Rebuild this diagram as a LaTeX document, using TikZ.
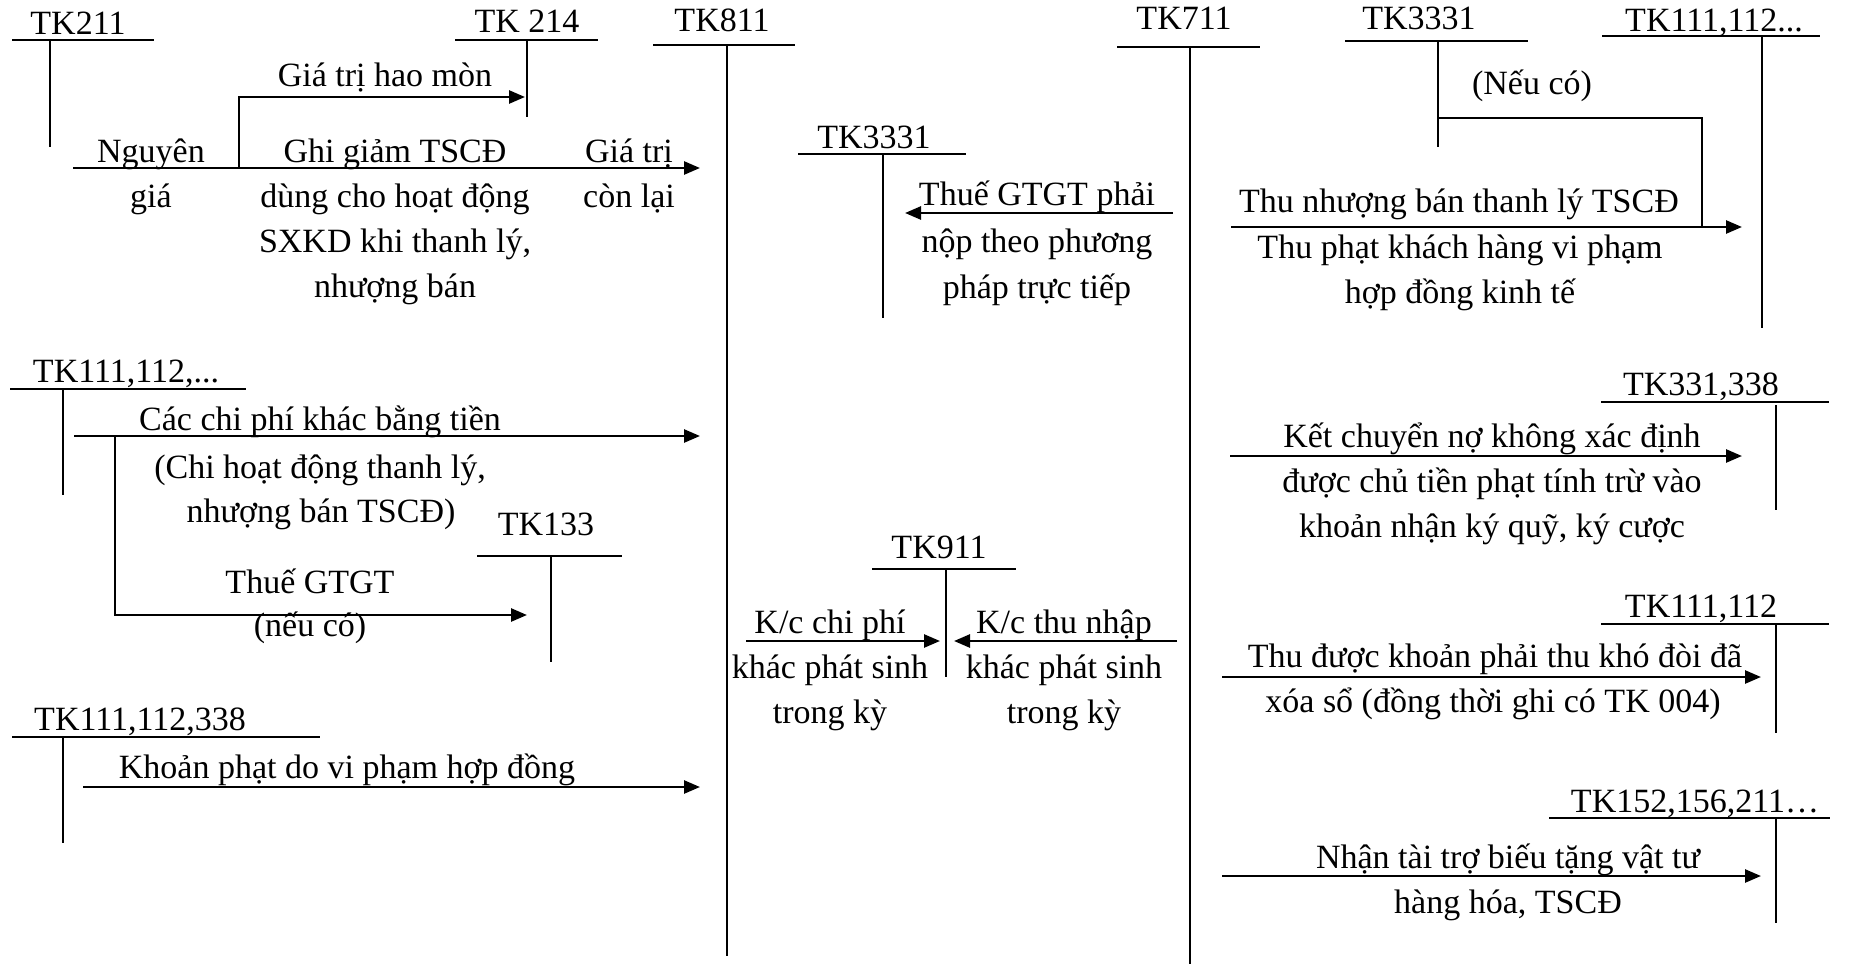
\documentclass[tikz,border=0pt]{standalone}
\usepackage{fontspec}
\setmainfont{Liberation Serif}
\usetikzlibrary{arrows.meta}
\tikzset{
  acc/.style={line width=1.6pt},
  link/.style={line width=2.6pt},
  arr/.style={line width=2.6pt,-{Triangle[length=16pt,width=13pt]}},
  lbl/.style={anchor=base,inner sep=0pt,font=\fontsize{34}{45}\selectfont},
}
\begin{document}
\begin{tikzpicture}[x=1pt,y=-1pt]
\useasboundingbox (0,0) rectangle (1856,966);

% ---------- T accounts ----------
\node[lbl] (tk211) at (78,35) {TK211};
\draw[acc] (12,40) -- (154,40) (50,40) -- (50,147);
\node[lbl] (tk214) at (527,33) {TK 214};
\draw[acc] (455,40) -- (598,40) (527,40) -- (527,117);
\node[lbl] (tk811) at (722,32) {TK811};
\draw[acc] (653,45) -- (795,45) (727,45) -- (727,956);
\node[lbl] (tk711) at (1184,30) {TK711};
\draw[acc] (1117,47) -- (1260,47) (1190,47) -- (1190,964);
\node[lbl] (tk3331a) at (1419,30) {TK3331};
\draw[acc] (1345,41) -- (1528,41) (1438,41) -- (1438,147);
\node[lbl] (tk111a) at (1714,32) {TK111,112...};
\draw[acc] (1602,36) -- (1820,36) (1762,36) -- (1762,328);
\node[lbl] (tk3331b) at (874,148) {TK3331};
\draw[acc] (798,154) -- (966,154) (883,154) -- (883,318);
\node[lbl] (tk111b) at (126,382) {TK111,112,...};
\draw[acc] (10,389) -- (246,389) (63,389) -- (63,495);
\node[lbl] (tk133) at (546,535) {TK133};
\draw[acc] (477,556) -- (622,556) (551,556) -- (551,662);
\node[lbl] (tk111c) at (140,730) {TK111,112,338};
\draw[acc] (12,737) -- (320,737) (63,737) -- (63,843);
\node[lbl] (tk911) at (939,558) {TK911};
\draw[acc] (872,569) -- (1016,569) (946,569) -- (946,677);
\node[lbl] (tk331) at (1701,395) {TK331,338};
\draw[acc] (1601,402) -- (1829,402) (1776,405) -- (1776,510);
\node[lbl] (tk111d) at (1701,617) {TK111,112};
\draw[acc] (1601,624) -- (1829,624) (1776,624) -- (1776,733);
\node[lbl] (tk152) at (1695,812) {TK152,156,211…};
\draw[acc] (1549,818) -- (1830,818) (1776,818) -- (1776,923);

% ---------- connector end points ----------
\coordinate (a1s) at (73,168);   \coordinate (a1e) at (700,168);
\coordinate (b1s) at (239,168);  \coordinate (b1m) at (239,97);  \coordinate (b1e) at (525,97);
\coordinate (a2s) at (1173,213); \coordinate (a2e) at (905,213);
\coordinate (a3s) at (1231,227); \coordinate (a3e) at (1742,227);
\coordinate (b3s) at (1438,118); \coordinate (b3m) at (1702,118); \coordinate (b3e) at (1702,227);
\coordinate (a4s) at (74,436);   \coordinate (a4e) at (700,436);
\coordinate (b4s) at (115,436);  \coordinate (b4m) at (115,615); \coordinate (b4e) at (527,615);
\coordinate (a5s) at (83,787);   \coordinate (a5e) at (700,787);
\coordinate (a6s) at (746,641);  \coordinate (a6e) at (940,641);
\coordinate (a7s) at (1177,641); \coordinate (a7e) at (954,641);
\coordinate (a8s) at (1230,456); \coordinate (a8e) at (1742,456);
\coordinate (a9s) at (1222,677); \coordinate (a9e) at (1761,677);
\coordinate (a10s) at (1222,876); \coordinate (a10e) at (1761,876);

% ---------- connectors ----------
\draw[arr] (a1s) -- (a1e);
\draw[arr] (b1s) -- (b1m) -- (b1e);
\draw[arr] (a2s) -- (a2e);
\draw[arr] (a3s) -- (a3e);
\draw[link] (b3s) -- (b3m) -- (b3e);
\draw[arr] (a4s) -- (a4e);
\draw[arr] (b4s) -- (b4m) -- (b4e);
\draw[arr] (a5s) -- (a5e);
\draw[arr] (a6s) -- (a6e);
\draw[arr] (a7s) -- (a7e);
\draw[arr] (a8s) -- (a8e);
\draw[arr] (a9s) -- (a9e);
\draw[arr] (a10s) -- (a10e);

% ---------- texts ----------
\node[lbl] (t1) at (385,87) {Giá trị hao mòn};
\node[lbl] (t2a) at (151,162) {Nguyên};
\node[lbl] (t2b) at (151,207) {giá};
\node[lbl] (t3a) at (395,162) {Ghi giảm TSCĐ};
\node[lbl] (t3b) at (395,207) {dùng cho hoạt động};
\node[lbl] (t3c) at (395,252) {SXKD khi thanh lý,};
\node[lbl] (t3d) at (395,297) {nhượng bán};
\node[lbl] (t4a) at (629,162) {Giá trị};
\node[lbl] (t4b) at (629,207) {còn lại};

\node[lbl] (t5a) at (1037,205) {Thuế GTGT phải};
\node[lbl] (t5b) at (1037,252) {nộp theo phương};
\node[lbl] (t5c) at (1037,298) {pháp trực tiếp};

\node[lbl] (t6) at (1532,95) {(Nếu có)};
\node[lbl] (t7a) at (1459,212) {Thu nhượng bán thanh lý TSCĐ};
\node[lbl] (t7b) at (1460,258) {Thu phạt khách hàng vi phạm};
\node[lbl] (t7c) at (1460,303) {hợp đồng kinh tế};

\node[lbl] (t8a) at (320,430) {Các chi phí khác bằng tiền};
\node[lbl] (t8b) at (320,478) {(Chi hoạt động thanh lý,};
\node[lbl] (t8c) at (321,522) {nhượng bán TSCĐ)};
\node[lbl] (t9a) at (310,593) {Thuế GTGT};
\node[lbl] (t9b) at (310,636) {(nếu có)};

\node[lbl] (t10) at (347,778) {Khoản phạt do vi phạm hợp đồng};

\node[lbl] (t11a) at (830,633) {K/c chi phí};
\node[lbl] (t11b) at (830,678) {khác phát sinh};
\node[lbl] (t11c) at (830,723) {trong kỳ};
\node[lbl] (t12a) at (1064,633) {K/c thu nhập};
\node[lbl] (t12b) at (1064,678) {khác phát sinh};
\node[lbl] (t12c) at (1064,723) {trong kỳ};

\node[lbl] (t13a) at (1492,447) {Kết chuyển nợ không xác định};
\node[lbl] (t13b) at (1492,492) {được chủ tiền phạt tính trừ vào};
\node[lbl] (t13c) at (1492,537) {khoản nhận ký quỹ, ký cược};

\node[lbl] (t14a) at (1495,667) {Thu được khoản phải thu khó đòi đã};
\node[lbl] (t14b) at (1493,712) {xóa sổ (đồng thời ghi có TK 004)};

\node[lbl] (t15a) at (1508,868) {Nhận tài trợ biếu tặng vật tư};
\node[lbl] (t15b) at (1508,913) {hàng hóa, TSCĐ};
\end{tikzpicture}
\end{document}
